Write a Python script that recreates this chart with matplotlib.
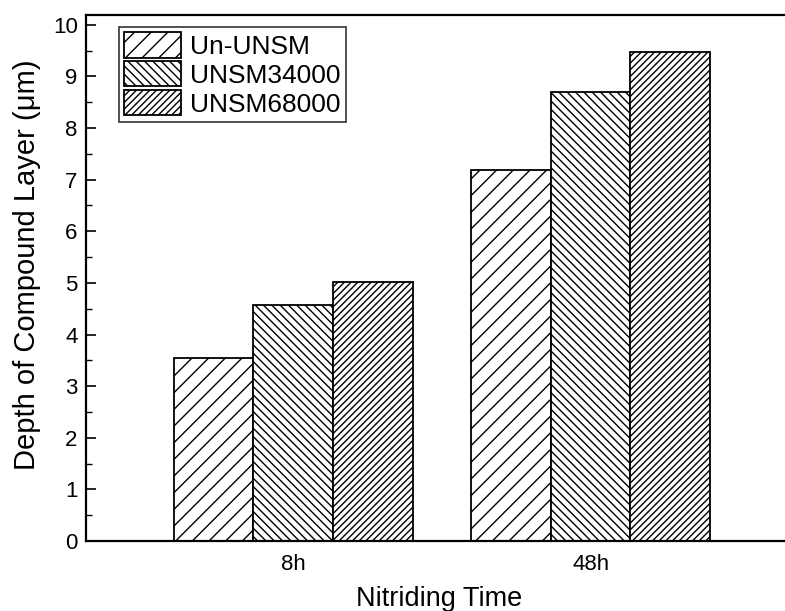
import matplotlib
matplotlib.use("Agg")
import matplotlib.pyplot as plt
import numpy as np
from matplotlib.ticker import MultipleLocator

plt.rcParams['font.family'] = ['Liberation Sans', 'DejaVu Sans']
plt.rcParams['hatch.linewidth'] = 1.0

categories = ['8h', '48h']
series_names = ['Un-UNSM', 'UNSM34000', 'UNSM68000']
un_unsm = [3.55, 7.18]
unsm34000 = [4.57, 8.70]
unsm68000 = [5.01, 9.47]
hatches = ['//', '\\\\\\\\', '/////']

fig = plt.figure(figsize=(7.85, 6.11), dpi=100)
ax = fig.add_axes([86/785, 70/611, 1 - 86/785 + 0.01, 526/611])

x = np.arange(1, len(categories) + 1)
w = 0.268
vals = [un_unsm, unsm34000, unsm68000]
for i, (name, v, h) in enumerate(zip(series_names, vals, hatches)):
    ax.bar(x + (i - 1) * w, v, w, color='white', edgecolor='black',
           hatch=h, linewidth=1.3, label=name)

ax.set_xlim(0.303, 2.68)
ax.set_ylim(0, 10.19)
ax.set_xticks(x)
ax.set_xticklabels(categories, fontsize=16)
ax.tick_params(axis='x', length=0, pad=9)
ax.yaxis.set_major_locator(MultipleLocator(1))
ax.yaxis.set_minor_locator(MultipleLocator(0.5))
ax.tick_params(axis='y', which='major', direction='in', length=7, width=1.2,
               labelsize=16, pad=6)
ax.tick_params(axis='y', which='minor', direction='in', length=4, width=1.0)
ax.spines['right'].set_visible(False)
for s in ['left', 'bottom', 'top']:
    ax.spines[s].set_linewidth(1.6)

ax.set_ylabel('Depth of Compound Layer (μm)', fontsize=21)
ax.yaxis.set_label_coords(-0.063, 0.525)
ax.set_xlabel('Nitriding Time', fontsize=19.5, labelpad=8)

leg = ax.legend(loc='upper left', bbox_to_anchor=(0.046, 0.978), fontsize=19,
                handlelength=2.16, handleheight=1.1, labelspacing=0.08,
                handletextpad=0.33, borderpad=0.22, borderaxespad=0,
                fancybox=False, edgecolor='#333333', framealpha=1)
leg.get_frame().set_linewidth(1.2)

fig.savefig('out.png', dpi=100)
